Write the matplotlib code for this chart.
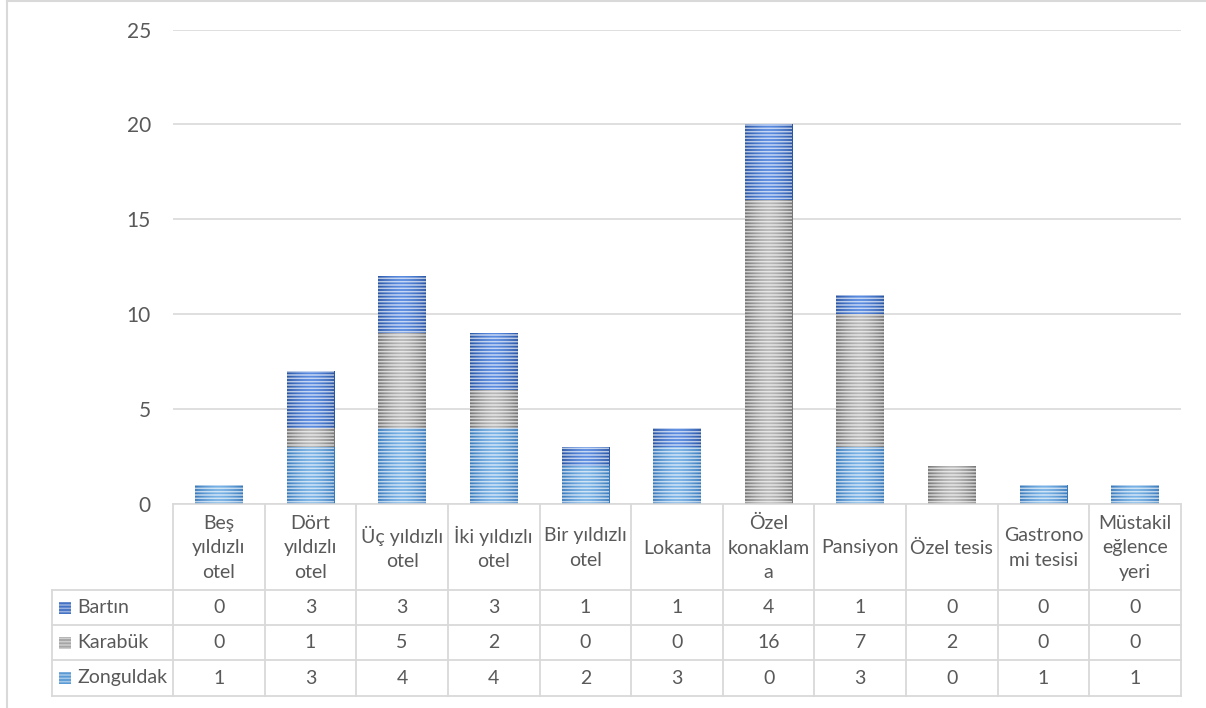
import numpy as np
import matplotlib
matplotlib.use("Agg")
import matplotlib.pyplot as plt
from matplotlib.patches import Rectangle
from matplotlib.transforms import Affine2D
from matplotlib.colors import to_rgb

# ---------------- data ----------------
categories = ["Beş yıldızlı otel", "Dört yıldızlı otel", "Üç yıldızlı otel",
              "İki yıldızlı otel", "Bir yıldızlı otel", "Lokanta",
              "Özel konaklama", "Pansiyon", "Özel tesis",
              "Gastronomi tesisi", "Müstakil eğlence yeri"]
header_labels = ["Beş\nyıldızlı\notel", "Dört\nyıldızlı\notel", "Üç yıldızlı\notel",
                 "İki yıldızlı\notel", "Bir yıldızlı\notel", "Lokanta",
                 "Özel\nkonaklam\na", "Pansiyon", "Özel tesis",
                 "Gastrono\nmi tesisi", "Müstakil\neğlence\nyeri"]
series_names = ["Bartın", "Karabük", "Zonguldak"]
bartin = [0, 3, 3, 3, 1, 1, 4, 1, 0, 0, 0]
karabuk = [0, 1, 5, 2, 0, 0, 16, 7, 2, 0, 0]
zonguldak = [1, 3, 4, 4, 2, 3, 0, 3, 0, 1, 1]
yticks = [0, 5, 10, 15, 20, 25]

# ---------------- style ----------------
W, H = 1206, 708
FONT = ["Lato", "DejaVu Sans"]
plt.rcParams['font.family'] = FONT
plt.rcParams['hatch.linewidth'] = 1.1
TXT = "#595959"
GRID = "#D9D9D9"
FS = 14
dark_cols = {"Bartın": "#2A55A3", "Karabük": "#767676", "Zonguldak": "#3A7ABB"}
light_cols = {"Bartın": "#5A8BE0", "Karabük": "#B8B8B8", "Zonguldak": "#79B2E6"}
marker_cols = {"Bartın": "#4472C4", "Karabük": "#A5A5A5", "Zonguldak": "#5B9BD5"}

fig = plt.figure(figsize=(W / 100, H / 100), dpi=100)
px = Affine2D().scale(1 / W, -1 / H).translate(0, 1) + fig.transFigure

# plot area in pixels
L, R, T, B = 173, 1181, 29.5, 504
ax = fig.add_axes([L / W, 1 - B / H, (R - L) / W, (B - T) / H])
n = len(categories)
x = np.arange(n)
ax.set_xlim(-0.5, n - 0.5)
ax.set_ylim(0, 25)
ax.set_yticks(yticks)
ax.set_yticklabels([str(v) for v in yticks], fontsize=15, color=TXT)
ax.tick_params(axis='y', length=0, pad=16)
ax.set_xticks([])
for s in ["top", "right", "left"]:
    ax.spines[s].set_visible(False)
ax.spines["bottom"].set_color(GRID)
ax.spines["bottom"].set_linewidth(1.2)
ax.yaxis.grid(True, color=GRID, linewidth=1.2)
ax.set_axisbelow(True)


def gradient_img(name):
    d = np.array(to_rgb(dark_cols[name]))
    l = np.array(to_rgb(light_cols[name]))
    t = np.linspace(0, 1, 64)
    w = np.abs(t - 0.5) * 2
    w = w ** 1.6
    img = l[None, :] * (1 - w[:, None]) + d[None, :] * w[:, None]
    return img[None, :, :]


width = 0.52
bottom = np.zeros(n)
stack = [("Zonguldak", zonguldak), ("Karabük", karabuk), ("Bartın", bartin)]
for name, vals in stack:
    vals = np.array(vals, dtype=float)
    bars = ax.bar(x, vals, width, bottom=bottom, facecolor="none",
                  edgecolor=(1, 1, 1, 0.66), hatch="-----", linewidth=0, zorder=3)
    for rect, v in zip(bars, vals):
        if v <= 0:
            continue
        x0 = rect.get_x()
        y0 = rect.get_y()
        im = ax.imshow(gradient_img(name), extent=(x0, x0 + rect.get_width(), y0, y0 + rect.get_height()),
                       aspect='auto', interpolation='bilinear', zorder=2)
        im.set_clip_path(rect)
    bottom += vals
ax.set_xlim(-0.5, n - 0.5)
ax.set_ylim(0, 25)

# ---------------- data table ----------------
colw = (R - L) / n
hdr_bot = 590
row_lines = [590, 625, 660, 696]
tab_left = 52


def line(x0, y0, x1, y1):
    fig.add_artist(plt.Line2D([x0, x1], [y0, y1], transform=px, color=GRID, linewidth=1.3))


# vertical lines
for i in range(n + 1):
    line(L + i * colw, B, L + i * colw, row_lines[-1])
line(tab_left, hdr_bot, tab_left, row_lines[-1])
for y in row_lines:
    line(tab_left, y, R, y)

# header labels
for i, lab in enumerate(header_labels):
    fig.text((L + (i + 0.5) * colw) / W, 1 - ((B + hdr_bot) / 2 + 1) / H, lab,
             ha="center", va="center", fontsize=FS, color=TXT, linespacing=1.56,
             multialignment="center")

# rows
rows = [("Bartın", bartin), ("Karabük", karabuk), ("Zonguldak", zonguldak)]
for r, (name, vals) in enumerate(rows):
    yc = (row_lines[r] + row_lines[r + 1]) / 2
    # legend marker
    m = Rectangle((59, yc - 6), 12, 12, transform=px, facecolor=marker_cols[name],
                  edgecolor=(1, 1, 1, 0.45), hatch="-----", linewidth=0)
    fig.add_artist(m)
    fig.text(77 / W, 1 - yc / H, name, ha="left", va="center", fontsize=FS, color=TXT)
    for i, v in enumerate(vals):
        fig.text((L + (i + 0.5) * colw) / W, 1 - yc / H, str(v), ha="center", va="center",
                 fontsize=FS, color=TXT)

# outer frame
fig.add_artist(plt.Line2D([7, 7], [0, H], transform=px, color=GRID, linewidth=1.5))
fig.add_artist(plt.Line2D([7, W], [0.5, 0.5], transform=px, color=GRID, linewidth=1.5))

fig.savefig("out.png", dpi=100)
